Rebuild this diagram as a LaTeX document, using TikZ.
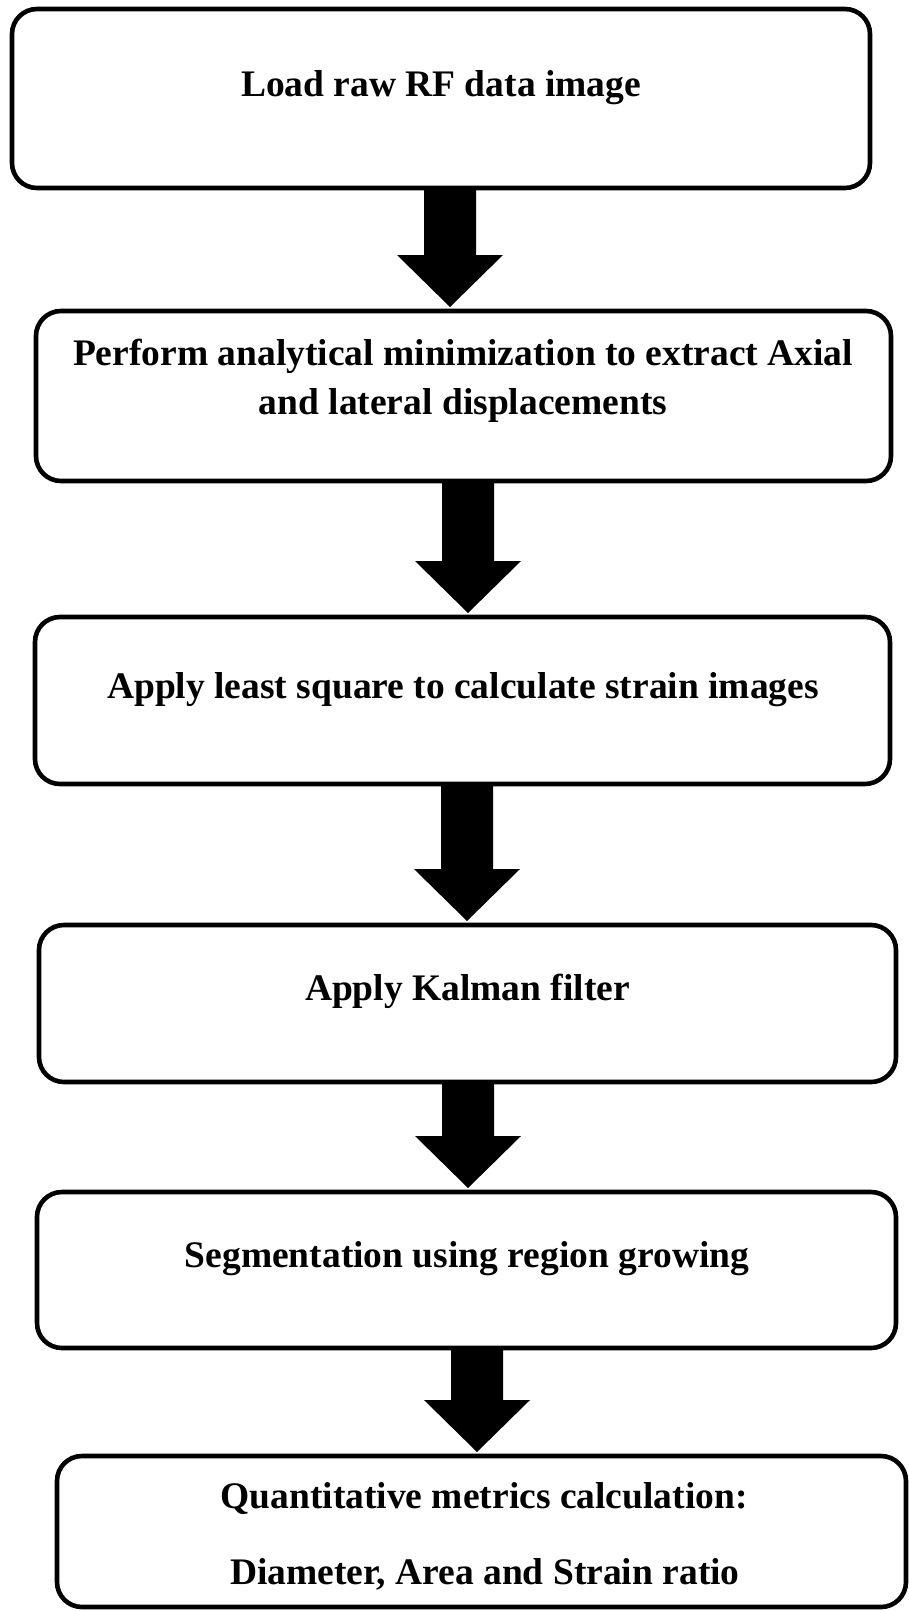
\documentclass[tikz,border=0pt]{standalone}
\usepackage{fontspec}
\setmainfont{Liberation Serif}
\usetikzlibrary{calc}

% filled block arrow from #1 (shaft start) to #2 (tip)
\newcommand{\flowarrow}[2]{%
  \fill let \p1=(#1), \p2=(#2) in
    (\x1-26pt,\y1) -- (\x1+26pt,\y1) -- (\x1+26pt,\y2+52pt) --
    (\x1+53pt,\y2+52pt) -- (\x1,\y2) -- (\x1-53pt,\y2+52pt) --
    (\x1-26pt,\y2+52pt) -- cycle;}

\begin{document}
\begin{tikzpicture}[x=1pt,y=-1pt,
  stepbox/.style={draw=black, line width=4.6pt, rounded corners=25pt,
    fill=white, inner sep=0pt, outer sep=0pt},
  label/.style={anchor=base, inner sep=0pt,
    font=\fontsize{37.5}{45}\selectfont\bfseries}]
  \useasboundingbox (0,0) rectangle (909,1611);

  % process boxes
  \node[stepbox, minimum width=858pt, minimum height=179pt] (b1) at (441,98.5) {};
  \node[stepbox, minimum width=855pt, minimum height=170pt] (b2) at (463.5,396) {};
  \node[stepbox, minimum width=855pt, minimum height=167pt] (b3) at (462.5,700.5) {};
  \node[stepbox, minimum width=857pt, minimum height=157pt] (b4) at (467.5,1003.5) {};
  \node[stepbox, minimum width=859pt, minimum height=156pt] (b5) at (466.5,1270) {};
  \node[stepbox, minimum width=849pt, minimum height=151pt] (b6) at (481.5,1531.5) {};

  % box texts
  \node[label] (t1) at (441,96) {Load raw RF data image};
  \node[label] (t2a) at (463,365) {Perform analytical minimization to extract Axial};
  \node[label] (t2b) at (463,414) {and lateral displacements};
  \node[label] (t3) at (463,698) {Apply least square to calculate strain images};
  \node[label] (t4) at (467.5,1000) {Apply Kalman filter};
  \node[label] (t5) at (467,1267) {Segmentation using region growing};
  \node[label] (t6a) at (484,1508) {Quantitative metrics calculation:};
  \node[label] (t6b) at (485,1584) {Diameter, Area and Strain ratio};

  % connectors
  \coordinate (a1s) at (450,0 |- b1.south);
  \coordinate (a1e) at ($(450,0 |- b2.north)+(0,-4)$);
  \coordinate (a2s) at (468,0 |- b2.south);
  \coordinate (a2e) at ($(468,0 |- b3.north)+(0,-4)$);
  \coordinate (a3s) at (467,0 |- b3.south);
  \coordinate (a3e) at ($(467,0 |- b4.north)+(0,-4)$);
  \coordinate (a4s) at (468,0 |- b4.south);
  \coordinate (a4e) at ($(468,0 |- b5.north)+(0,-4)$);
  \coordinate (a5s) at (477,0 |- b5.south);
  \coordinate (a5e) at ($(477,0 |- b6.north)+(0,-4)$);
  \flowarrow{a1s}{a1e}
  \flowarrow{a2s}{a2e}
  \flowarrow{a3s}{a3e}
  \flowarrow{a4s}{a4e}
  \flowarrow{a5s}{a5e}
\end{tikzpicture}
\end{document}
